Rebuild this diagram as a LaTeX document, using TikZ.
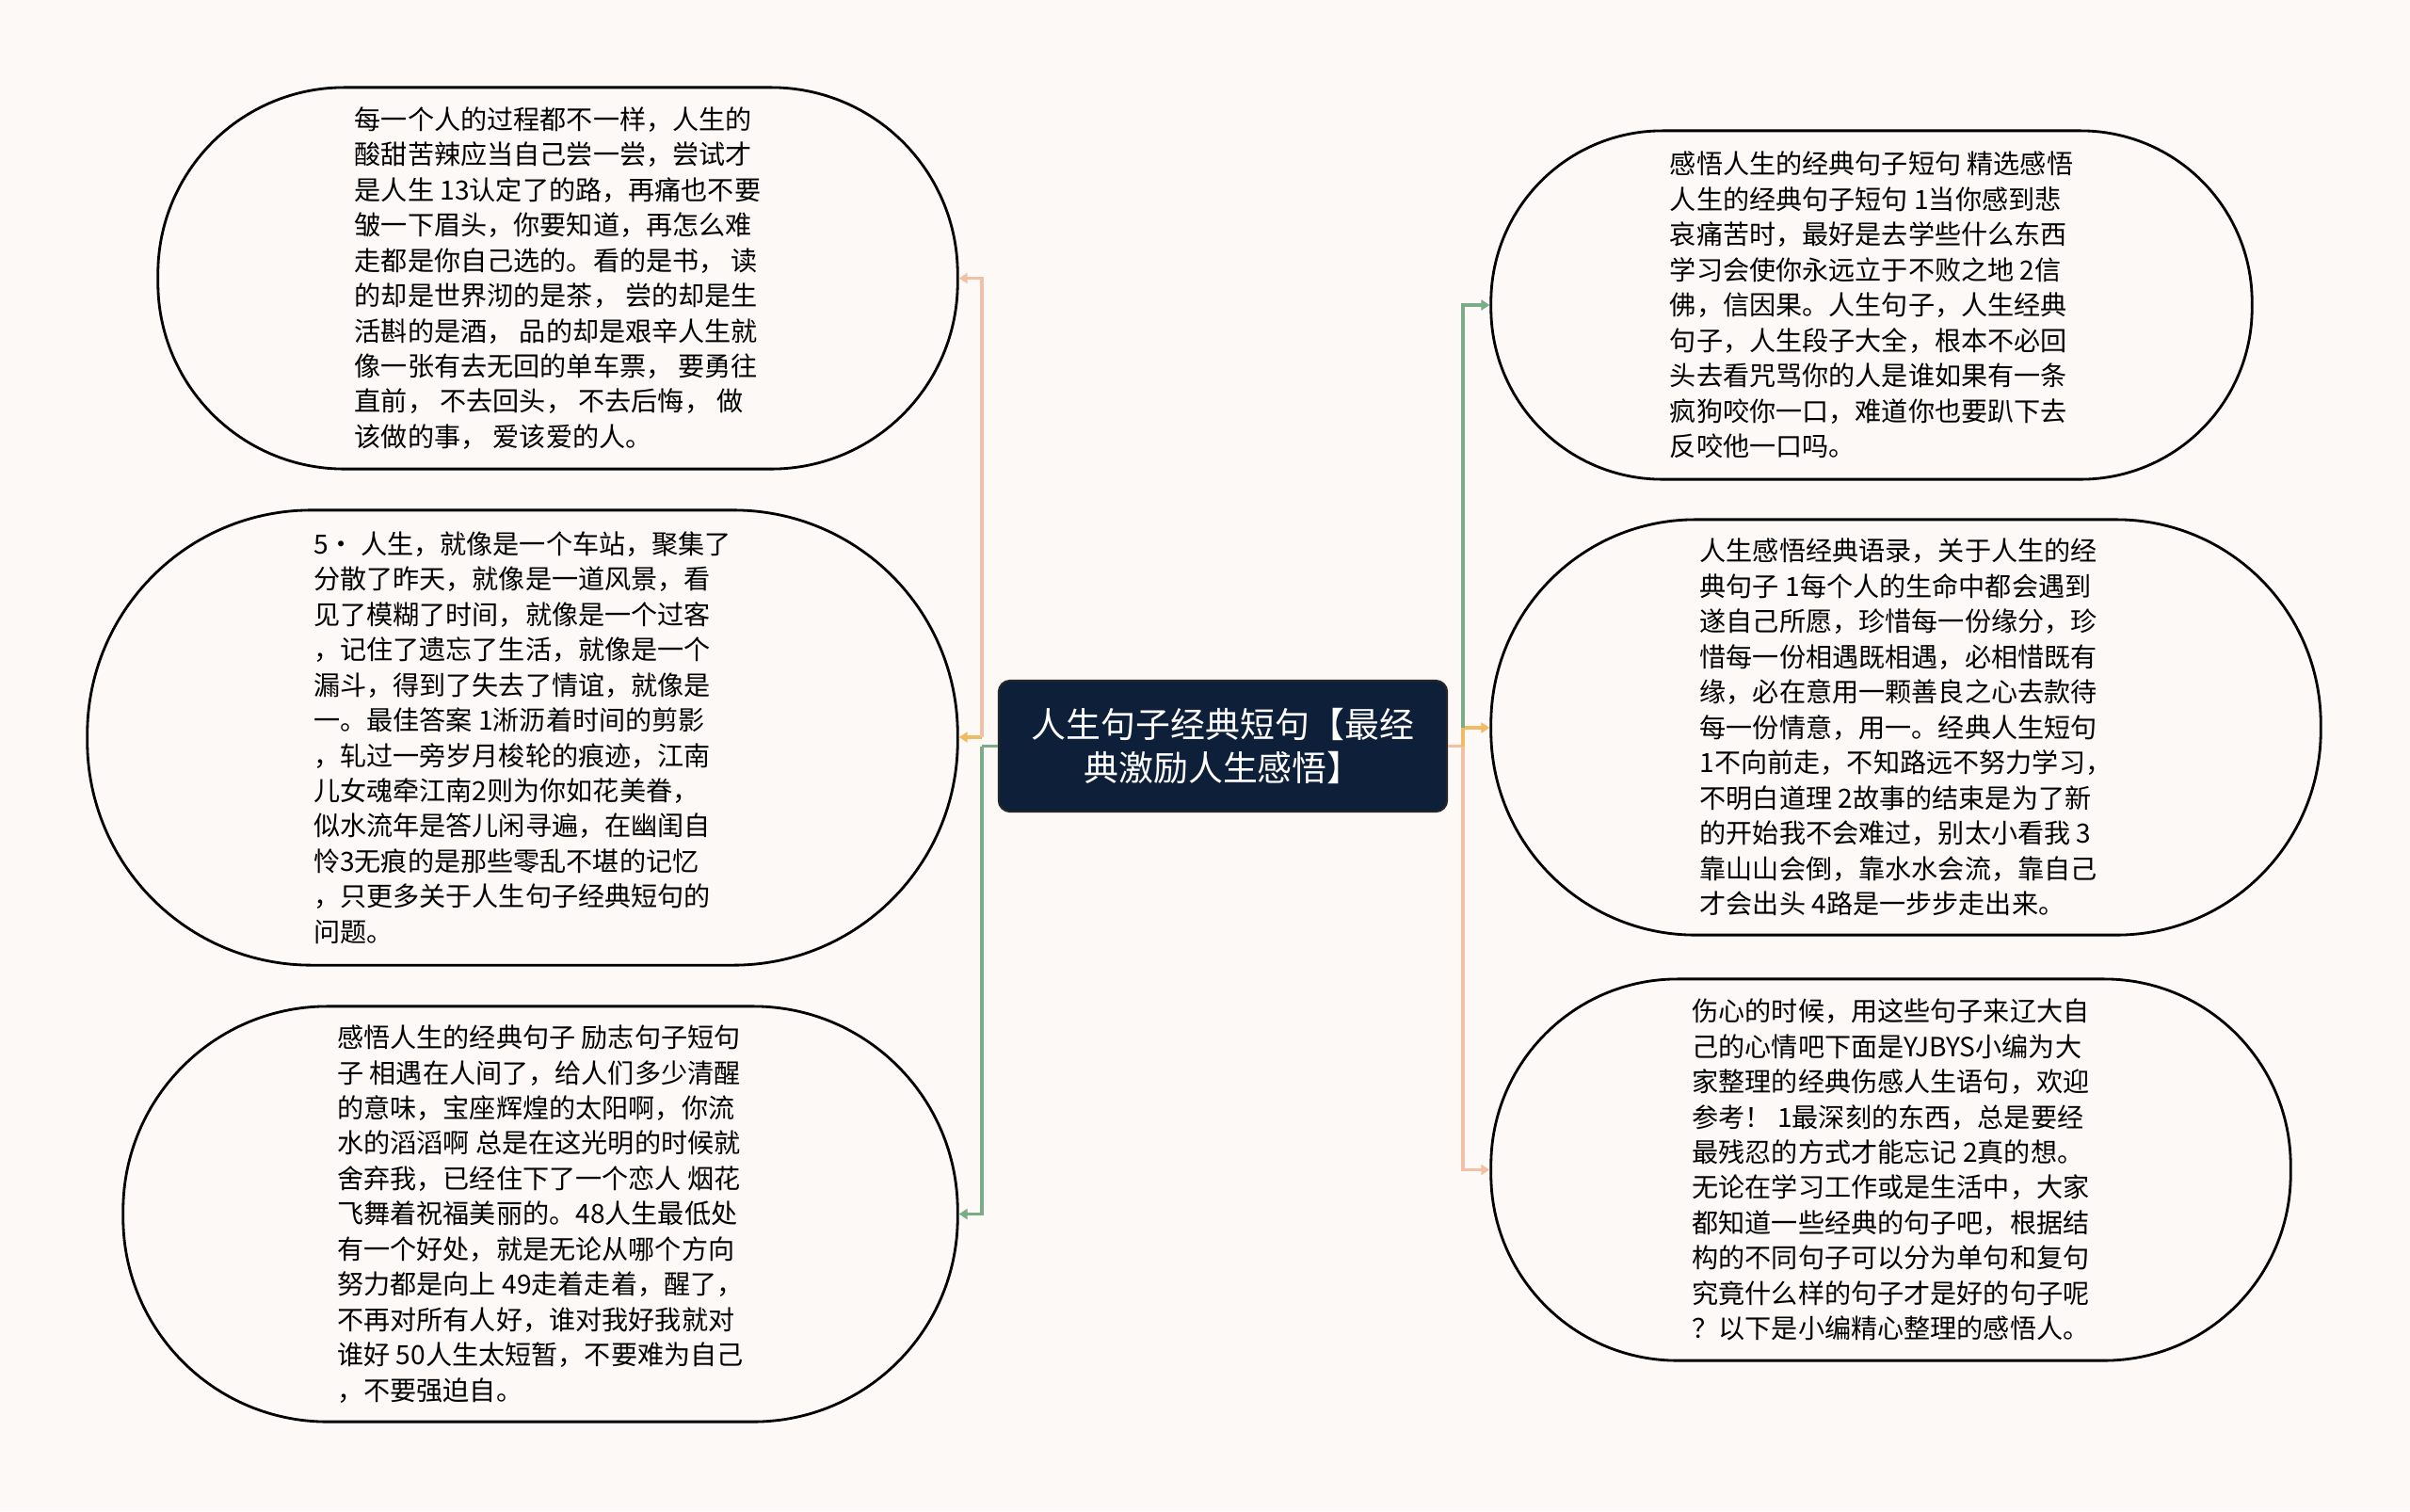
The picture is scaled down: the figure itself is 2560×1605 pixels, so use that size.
\documentclass[tikz,border=0pt]{standalone}
\usepackage{fontspec}
\setmainfont{Noto Sans CJK SC}
\usepackage{xcolor}
\usepackage{tikz}
\usetikzlibrary{arrows.meta}

\definecolor{paper}{HTML}{FCF9F7}
\definecolor{navy}{HTML}{0E1F3A}
\definecolor{salmon}{HTML}{F2C0A4}
\definecolor{amber}{HTML}{F1BB63}
\definecolor{sage}{HTML}{7AAC88}

\tikzset{
  card/.style={draw=black, line width=0.8pt, inner sep=0pt, align=left,
    font=\fontsize{8pt}{10.65pt}\selectfont},
  hubbox/.style={draw=black!85, line width=0.6pt, fill=navy, text=white,
    rounded corners=0.12cm, minimum width=4.76cm, minimum height=1.39cm,
    align=center, font=\fontsize{10.5pt}{13.3pt}\selectfont},
  link/.style={line width=0.9pt, -{Triangle[length=0.9mm, width=1.1mm]}},
  plain/.style={line width=0.9pt}
}

\begin{document}
\begin{tikzpicture}[x=0.01cm, y=-0.01cm]
  \fill [paper] (0,0) rectangle (2560,1605);

  \node [hubbox] (hub) at (1299,792.5) {人生句子经典短句【最经\\典激励人生感悟】};

  \node [card, minimum width=8.49cm, minimum height=4.05cm, rounded corners=1.98cm] (l1) at (592.5,295.5) {%
    每一个人的过程都不一样，人生的\\
    酸甜苦辣应当自己尝一尝，尝试才\\
    是人生 13认定了的路，再痛也不要\\
    皱一下眉头，你要知道，再怎么难\\
    走都是你自己选的。看的是书， 读\\
    的却是世界沏的是茶， 尝的却是生\\
    活斟的是酒， 品的却是艰辛人生就\\
    像一张有去无回的单车票， 要勇往\\
    直前， 不去回头， 不去后悔， 做\\
    该做的事， 爱该爱的人。};
  \node [card, minimum width=9.24cm, minimum height=4.83cm, rounded corners=2.38cm] (l2) at (555,783.5) {%
    5· 人生，就像是一个车站，聚集了\\
    分散了昨天，就像是一道风景，看\\
    见了模糊了时间，就像是一个过客\\
    ，记住了遗忘了生活，就像是一个\\
    漏斗，得到了失去了情谊，就像是\\
    一。最佳答案 1淅沥着时间的剪影\\
    ，轧过一旁岁月梭轮的痕迹，江南\\
    儿女魂牵江南2则为你如花美眷，\\
    似水流年是答儿闲寻遍，在幽闺自\\
    怜3无痕的是那些零乱不堪的记忆\\
    ，只更多关于人生句子经典短句的\\
    问题。};
  \node [card, minimum width=8.86cm, minimum height=4.41cm, rounded corners=2.17cm] (l3) at (574,1289.5) {%
    感悟人生的经典句子 励志句子短句\\
    子 相遇在人间了，给人们多少清醒\\
    的意味，宝座辉煌的太阳啊，你流\\
    水的滔滔啊 总是在这光明的时候就\\
    舍弃我，已经住下了一个恋人 烟花\\
    飞舞着祝福美丽的。48人生最低处\\
    有一个好处，就是无论从哪个方向\\
    努力都是向上 49走着走着，醒了，\\
    不再对所有人好，谁对我好我就对\\
    谁好 50人生太短暂，不要难为自己\\
    ，不要强迫自。};

  \node [card, minimum width=8.08cm, minimum height=3.70cm, rounded corners=1.82cm] (r1) at (1988,324) {%
    感悟人生的经典句子短句 精选感悟\\
    人生的经典句子短句 1当你感到悲\\
    哀痛苦时，最好是去学些什么东西\\
    学习会使你永远立于不败之地 2信\\
    佛，信因果。人生句子，人生经典\\
    句子，人生段子大全，根本不必回\\
    头去看咒骂你的人是谁如果有一条\\
    疯狗咬你一口，难道你也要趴下去\\
    反咬他一口吗。};
  \node [card, minimum width=8.81cm, minimum height=4.41cm, rounded corners=2.17cm] (r2) at (2024.5,772.5) {%
    人生感悟经典语录，关于人生的经\\
    典句子 1每个人的生命中都会遇到\\
    遂自己所愿，珍惜每一份缘分，珍\\
    惜每一份相遇既相遇，必相惜既有\\
    缘，必在意用一颗善良之心去款待\\
    每一份情意，用一。经典人生短句\\
    1不向前走，不知路远不努力学习，\\
    不明白道理 2故事的结束是为了新\\
    的开始我不会难过，别太小看我 3\\
    靠山山会倒，靠水水会流，靠自己\\
    才会出头 4路是一步步走出来。};
  \node [card, minimum width=8.49cm, minimum height=4.05cm, rounded corners=1.98cm] (r3) at (2008.5,1242.5) {%
    伤心的时候，用这些句子来辽大自\\
    己的心情吧下面是YJBYS小编为大\\
    家整理的经典伤感人生语句，欢迎\\
    参考！ 1最深刻的东西，总是要经\\
    最残忍的方式才能忘记 2真的想。\\
    无论在学习工作或是生活中，大家\\
    都知道一些经典的句子吧，根据结\\
    构的不同句子可以分为单句和复句\\
    究竟什么样的句子才是好的句子呢\\
    ？以下是小编精心整理的感悟人。};

  \coordinate (ltrunk) at (1043,783);
  \coordinate (rtrunk) at (1554,773);

  \draw [plain, sage] (hub.west) -- (hub.west -| ltrunk);
  \draw [link, sage] (hub.west -| ltrunk) |- (l3.east);
  \draw [link, amber] (ltrunk) -- (ltrunk -| l2.east);
  \draw [link, salmon] (ltrunk) |- (l1.east);

  \draw [plain, salmon] (hub.east) -- (hub.east -| rtrunk);
  \draw [link, salmon] (hub.east -| rtrunk) |- (r3.west);
  \draw [link, amber] (hub.east -| rtrunk) -- (rtrunk) -- (rtrunk -| r2.west);
  \draw [link, sage] (rtrunk) |- (r1.west);
\end{tikzpicture}
\end{document}
